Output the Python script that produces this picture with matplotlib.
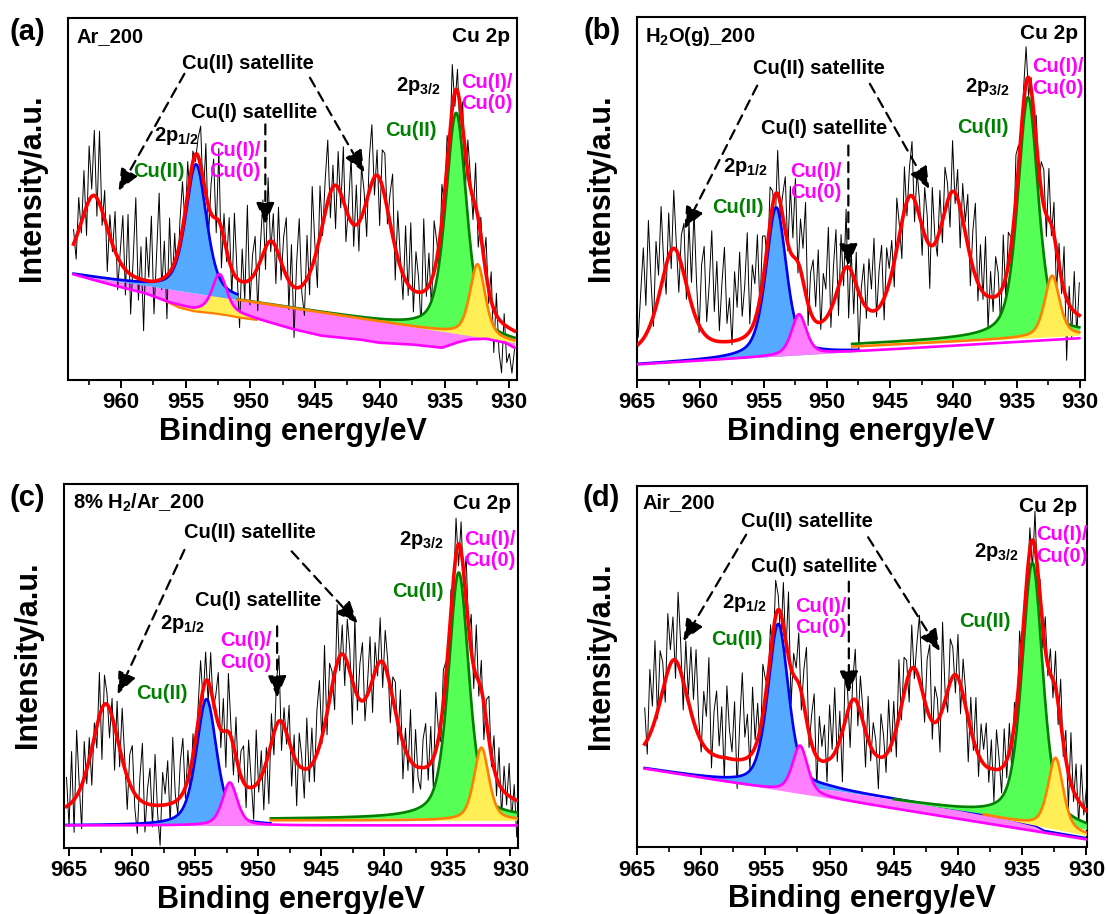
import numpy as np
import matplotlib
matplotlib.use('Agg')
import matplotlib.pyplot as plt

plt.rcParams['font.family'] = ['Liberation Sans', 'DejaVu Sans']
plt.rcParams['font.weight'] = 'bold'
plt.rcParams['mathtext.fontset'] = 'custom'
plt.rcParams['mathtext.rm'] = 'Liberation Sans:bold'
plt.rcParams['mathtext.it'] = 'Liberation Sans:bold'
plt.rcParams['mathtext.bf'] = 'Liberation Sans:bold'

# ---------------- data ----------------
panel_tags = ['(a)', '(b)', '(c)', '(d)']
sample_names = ['Ar_200', 'H$_2$O(g)_200', '8% H$_2$/Ar_200', 'Air_200']

# (a) Ar_200
a_span = (963.67, 929.59)
a_res = np.array("""4 -6 9 -3 12 -8 15 2 18 -5 20 -4 8 -12 6 -2 11 -9 3 14
-7 16 -11 5 22 -6 9 -14 12 1 18 -9 7 24 -3 10 -12 15 -5 8
-10 6 13 -4 9 -7 3 -2 5 11 -6 14 -9 8 16 -4 20 -11 7 -3
12 -8 17 2 -13 9 -5 21 -7 6 10 -12 4 15 -6 18 -3 8 -10 13
-5 9 16 -8 11 -14 7 19 -2 -9 12 -6 22 4 -11 14 -3 9 17 -7
6 -12 10 -4 15 -9 3 18 -6 11 -8 14 5 -10 9 16 -5 7 -13 10
12 -4 8 17 -9 13 2 -7 15 -3 18 -6 11 4 -10 20 -2 9 -8 14
5 -7 10 -3 8 -5 12 -4 6 -9 7 -11 9 3 -6 12 -8 5 -2 10
-4 8 -12 6 -9 -14 3 -10 -7 -12 -5""".split(), float)
a_env_E = [963.7, 962.1, 957.5, 954.2, 952.4, 950.6, 948.4, 946.5, 943.5, 940.2, 937.0, 934.1, 932.5, 929.6]
a_env_y = [28.5, 28.0, 24.5, 25.0, 24.0, 22.4, 20.0, 18.8, 18.0, 18.0, 17.5, 16.5, 13.6, 11.2]
a_fit_c = [954.2, 952.4, 934.1, 932.45]
a_fit_h = [35.6, 10.0, 60.9, 20.0]
a_fit_w = [1.9, 1.3, 1.9, 1.4]
a_sat_c = [962.1, 952.4, 948.4, 943.5, 940.2]
a_sat_h = [22.5, 3.0, 16.0, 32.3, 35.1]
a_sat_w = [2.6, 1.6, 2.0, 2.6, 2.6]
a_bg_E = [963.67, 929.59]
a_bg_y = [29.2, 10.4]
a_pinkbase_E = [963.7, 960.9, 958.3, 956.2, 954.4, 952.0, 950.3, 946.7, 944.5, 941.6,
                940.1, 937.5, 935.2, 934.1, 933.1, 931.8, 930.3, 929.6]
a_pinkbase_y = [29.2, 26.4, 24.1, 21.3, 19.5, 19.2, 17.6, 14.0, 12.2, 11.2,
                10.3, 9.8, 8.9, 10.3, 11.2, 11.4, 10.3, 8.9]
a_yellowlow_E = [957.0, 955.5, 954.4, 953.0, 952.0, 950.8, 949.5]
a_yellowlow_y = [22.5, 20.0, 19.0, 18.5, 18.0, 17.2, 16.6]

# (b) H2O(g)_200
b_span = (964.9, 930.05)
b_res = np.array("""2 14 25 8 30 12 -3 18 6 22 4 -8 12 -5 16 2 -10 8 14 -4
20 6 28 10 -2 18 24 4 15 30 8 22 3 16 26 5 12 -1 19 9
24 6 14 28 2 17 10 21 -3 13 8 -6 10 4 -9 12 -4 6 15 -2
18 5 22 -3 14 9 25 -6 11 16 4 20 -2 13 8 24 -5 10 18 -8
12 -4 16 -14 6 -10 9 -16 3 11 -3 14 6 20 -2 10 16 -6 12 4
9 -7 14 3 -10 12 -4 8 15 -6 10 4 -8 13 7 -12 16 2 -5 11
-6 12 5 -9 14 -3 8 -11 10 3 14 -8 10 20 -5 12 -2 16 -9 7
-4 11 6 -10 14 -6 9 3 -7 12 6 -8 4 10 -5 3 -9 7 -4 8
10 -6 14 -3 9 -12 6 -4 12 -17 5 -8 11 -6 9""".split(), float)
b_env_E = [964.9, 962.1, 958.1, 954.0, 952.2, 950.3, 948.4, 946.6, 943.4, 940.0, 937.1, 934.1, 932.4, 930.05]
b_env_y = [6.3, 6.7, 7.6, 7.9, 8.1, 10.2, 11.0, 12.0, 11.5, 11.8, 15.2, 15.2, 16.0, 14.7]
b_fit_c = [954.0, 952.2, 934.1, 932.2]
b_fit_h = [41.0, 11.2, 65.8, 16.8]
b_fit_w = [1.9, 1.4, 1.9, 1.4]
b_sat_c = [962.1, 952.4, 948.4, 943.4, 940.0]
b_sat_h = [29.0, 5.0, 17.5, 35.8, 36.5]
b_sat_w = [2.6, 1.6, 2.0, 2.6, 2.6]
b_bg_E = [964.9, 930.05]
b_bg_y = [4.3, 11.5]
b_green_E = [948.0, 930.05]
b_green_y = [9.8, 12.8]
b_orange_E = [948.0, 930.05]
b_orange_y = [9.2, 12.3]

# (c) 8% H2/Ar_200
c_span = (965.2, 929.5)
c_res = np.array("""8 -6 14 -9 18 2 -12 10 -4 6 -10 4 -6 12 -14 8 3 -8 5 -12
10 -5 14 3 -9 8 12 -4 -10 6 16 -8 4 10 -6 14 -2 -11 9 3
12 -6 18 2 -4 10 15 -3 8 -7 6 -9 4 12 -3 8 -6 10 -2 5
14 -5 9 -10 16 3 -8 11 -4 7 10 -6 13 2 -9 15 -3 7 -11 4
-14 8 -6 12 18 -8 5 -3 10 -10 6 -12 9 3 -8 14 -4 10 -6 12
18 -2 22 -6 10 4 -10 16 -4 8 -8 12 6 -12 20 -4 10 16 -6 3
14 -9 8 -3 12 -7 10 4 -10 6 8 -6 12 -10 6 -4 14 -8 10 -3
-6 8 12 -4 10 -8 16 3 -5 9 4 -8 6 -3 10 -6 8 -4 12 -2
10 -6 14 -4 8 -10 6 12 -3 9 -5 10 -8 7 -3 9 -6 4 -10""".split(), float)
c_env_E = [965.2, 962.1, 958.1, 954.1, 952.3, 950.6, 948.3, 946.5, 943.4, 940.2, 937.1, 934.1, 932.3, 929.5]
c_env_y = [8.5, 8.6, 8.8, 9.0, 9.2, 11.0, 12.0, 14.0, 13.0, 13.0, 15.0, 13.5, 12.5, 10.6]
c_fit_c = [954.1, 952.25, 934.1, 932.3]
c_fit_h = [34.7, 11.8, 67.4, 20.0]
c_fit_w = [1.9, 1.4, 1.9, 1.4]
c_sat_c = [962.1, 952.4, 948.3, 943.4, 940.2]
c_sat_h = [30.5, 4.0, 20.3, 36.5, 34.2]
c_sat_w = [2.6, 1.6, 2.0, 2.6, 2.6]
c_bg_E = [965.2, 929.5]
c_bg_y = [6.2, 6.2]
c_green_E = [949.0, 929.5]
c_green_y = [8.0, 8.4]
c_orange_E = [949.0, 929.5]
c_orange_y = [7.6, 7.6]

# (d) Air_200
d_span = (964.4, 930.0)
d_res = np.array("""10 -4 18 6 22 -2 14 8 -6 16 4 12 -5 20 8 -8 14 2 18 6
22 5 -3 15 9 26 -4 12 18 3 14 -6 20 8 2 16 -8 10 24 6
12 -4 18 2 10 -7 14 5 -3 8 -6 10 4 -8 12 -3 18 -10 6 3
14 -5 10 20 -4 8 16 -9 12 4 10 -6 15 2 18 -4 8 -14 12 6
-12 5 14 -6 10 3 -10 12 -4 8 4 -9 12 6 -5 14 -2 10 -8 16
-4 10 6 -8 12 -3 8 18 4 -6 14 20 -5 10 6 -10 24 2 -6 12
8 -5 12 -8 10 4 -12 9 -3 14 -6 10 4 12 -4 8 -9 11 3 -7
10 -5 8 -9 6 -4 12 -6 4 -3 6 -8 10 -4 5 -6 9 -3 7 -5
10 -6 12 -4 8 -10 14 -3 9 -7 11 -2 6""".split(), float)
d_env_E = [964.4, 962.1, 958.1, 954.0, 952.3, 950.2, 948.1, 946.2, 943.5, 940.2, 937.3, 934.2, 932.4, 930.0]
d_env_y = [23.0, 22.5, 21.7, 17.6, 17.5, 18.2, 16.5, 17.3, 14.0, 14.0, 15.1, 11.0, 13.0, 7.1]
d_fit_c = [954.0, 952.3, 934.2, 932.4]
d_fit_h = [45.4, 13.3, 71.6, 19.8]
d_fit_w = [1.9, 1.4, 1.9, 1.4]
d_sat_c = [962.1, 952.4, 948.1, 943.5, 940.2]
d_sat_h = [28.8, 4.3, 21.9, 32.6, 30.4]
d_sat_w = [2.6, 1.6, 2.0, 2.4, 2.4]
d_pinkbase_E = [964.4, 930.0]
d_pinkbase_y = [21.7, 2.1]
d_bluebase_E = [964.4, 956.0, 954.0, 952.0, 950.0, 945.0, 940.0, 936.0, 934.0, 933.3, 930.0]
d_bluebase_y = [21.7, 17.0, 16.4, 16.4, 15.9, 13.2, 10.2, 7.5, 5.7, 4.4, 2.4]
d_green_E = [945.0, 930.0]
d_green_y = [13.0, 4.9]
d_orange_E = [938.0, 930.0]
d_orange_y = [8.9, 3.2]

# ---------------- helpers ----------------
def pv(x, c, h, w, eta=0.5):
    r = (x - c) / w
    return h * (eta / (1 + 4 * r ** 2) + (1 - eta) * np.exp(-4 * np.log(2) * r ** 2))


def lin(Ep, yp, x):
    Ep = np.asarray(Ep, float)
    yp = np.asarray(yp, float)
    o = np.argsort(Ep)
    return np.interp(x, Ep[o], yp[o])


PINK_F, PINK_L = '#FF80FF', '#FF00FF'
BLUE_F, BLUE_L = '#55AAFF', '#0000EE'
GREEN_F, GREEN_L = '#55FF55', '#007F00'
YEL_F, ORG_L = '#FFEE55', '#FF8000'
TXT_G, TXT_M = '#008000', '#FF00FF'

panels = [
    dict(xlim=(964.1, 929.4), span=a_span, res=a_res, env=(a_env_E, a_env_y),
         fit=(a_fit_c, a_fit_h, a_fit_w), sats=(a_sat_c, a_sat_h, a_sat_w),
         base_b=(a_bg_E, a_bg_y), base_p=(a_pinkbase_E, a_pinkbase_y),
         base_g=(a_bg_E, a_bg_y), base_o=(a_bg_E, a_bg_y),
         rb=(963.67, 951.0), rg=(951.0, 929.59), ro=(951.0, 929.59),
         ylow=(a_yellowlow_E, a_yellowlow_y), pink_z=1.0,
         pos=(68, 18, 449, 362)),
    dict(xlim=(965.0, 929.6), span=b_span, res=b_res, env=(b_env_E, b_env_y),
         fit=(b_fit_c, b_fit_h, b_fit_w), sats=(b_sat_c, b_sat_h, b_sat_w),
         base_b=(b_bg_E, b_bg_y), base_p=(b_bg_E, b_bg_y),
         base_g=(b_green_E, b_green_y), base_o=(b_orange_E, b_orange_y),
         rb=(964.9, 947.5), rg=(948.0, 930.05), ro=(948.0, 930.05),
         ylow=None, pink_z=2.6, pos=(637, 17, 448, 363)),
    dict(xlim=(965.4, 929.4), span=c_span, res=c_res, env=(c_env_E, c_env_y),
         fit=(c_fit_c, c_fit_h, c_fit_w), sats=(c_sat_c, c_sat_h, c_sat_w),
         base_b=(c_bg_E, c_bg_y), base_p=(c_bg_E, c_bg_y),
         base_g=(c_green_E, c_green_y), base_o=(c_orange_E, c_orange_y),
         rb=(965.2, 949.0), rg=(949.0, 929.5), ro=(949.0, 929.5),
         ylow=None, pink_z=2.6, pos=(64, 484, 454, 364)),
    dict(xlim=(965.0, 929.95), span=d_span, res=d_res, env=(d_env_E, d_env_y),
         fit=(d_fit_c, d_fit_h, d_fit_w), sats=(d_sat_c, d_sat_h, d_sat_w),
         base_b=(d_bluebase_E, d_bluebase_y), base_p=(d_pinkbase_E, d_pinkbase_y),
         base_g=(d_green_E, d_green_y), base_o=(d_orange_E, d_orange_y),
         rb=(964.4, 930.0), rg=(945.0, 930.0), ro=(938.0, 930.0),
         ylow=None, pink_z=2.6, pos=(637, 486, 450, 361)),
]

# annotation layout (x in eV, y in axis units 0-100)
annots = [
    dict(sat2=(950.2, 87.3), la=((955.1, 84.6), (960.2, 52.2)), ra=((945.4, 83.5), (941.2, 57.3)),
         sat1=(949.7, 74.0), da=((948.85, 70.6), (948.85, 43.0)),
         p12=(955.7, 67.4), cu2l=(957.1, 57.7), cu1l=(953.2, 60.5),
         p32=(937.0, 81.3), cu2r=(937.6, 69.0), cu1r=(933.7, 79.3),
         name=(0.018, 0.950), cu2p=(0.984, 0.949), tag=(27, 32)),
    dict(sat2=(950.66, 85.7), la=((955.5, 81.1), (961.25, 41.6)), ra=((946.6, 81.6), (941.9, 52.6)),
         sat1=(950.2, 69.2), da=((948.3, 64.6), (948.3, 31.5)),
         p12=(956.4, 58.6), cu2l=(957.0, 47.6), cu1l=(952.9, 54.5),
         p32=(937.3, 80.7), cu2r=(937.7, 69.6), cu1r=(933.8, 83.3),
         name=(0.017, 0.945), cu2p=(0.985, 0.954), tag=(602, 31)),
    dict(sat2=(950.66, 86.7), la=((955.85, 81.9), (961.15, 42.2)), ra=((947.35, 81.5), (942.1, 61.7)),
         sat1=(950.0, 68.1), da=((948.5, 60.9), (948.5, 41.3)),
         p12=(956.0, 61.6), cu2l=(957.6, 42.4), cu1l=(953.0, 54.0),
         p32=(937.1, 84.7), cu2r=(937.3, 70.5), cu1r=(933.65, 81.9),
         name=(0.020, 0.947), cu2p=(0.984, 0.947), tag=(27, 498)),
    dict(sat2=(951.76, 90.3), la=((956.5, 86.5), (961.4, 57.0)), ra=((947.0, 85.8), (941.4, 54.2)),
         sat1=(951.2, 77.7), da=((948.5, 73.5), (948.5, 42.7)),
         p12=(956.65, 67.6), cu2l=(957.2, 57.4), cu1l=(952.7, 63.7),
         p32=(937.0, 81.8), cu2r=(937.9, 62.5), cu1r=(933.95, 83.5),
         name=(0.013, 0.954), cu2p=(0.979, 0.943), tag=(601, 498)),
]

W, H = 1107, 914
fig = plt.figure(figsize=(W / 100, H / 100), dpi=100)

FS = 14.5


def arrow(ax, p0, p1):
    ax.annotate('', xy=p1, xytext=p0,
                arrowprops=dict(arrowstyle='-|>,head_length=0.95,head_width=0.4',
                                color='k', lw=1.6, linestyle=(0, (4.5, 3)),
                                shrinkA=0, shrinkB=0, mutation_scale=14),
                zorder=12)


for P, A, tag, name in zip(panels, annots, panel_tags, sample_names):
    l, t, w, h = P['pos']
    ax = fig.add_axes([l / W, 1 - (t + h) / H, w / W, h / H])
    hi, lo = P['span']
    x = np.linspace(hi, lo, 900)

    def envelope(xx):
        y = lin(*P['env'], xx)
        for c, hh, ww in zip(*P['fit']):
            y = y + pv(xx, c, hh, ww)
        for c, hh, ww in zip(*P['sats']):
            y = y + pv(xx, c, hh, ww)
        return y

    env = envelope(x)
    xr = np.linspace(hi, lo, len(P['res']))
    raw = envelope(xr) + P['res']
    ax.plot(xr, raw, color='k', lw=0.7, zorder=1.5)

    fc, fh, fw = P['fit']
    bb = lin(*P['base_b'], x)
    bp = lin(*P['base_p'], x)
    bgr = lin(*P['base_g'], x)
    bo = lin(*P['base_o'], x)

    # blue (Cu II 2p1/2)
    m = (x <= P['rb'][0]) & (x >= P['rb'][1])
    B = bb + pv(x, fc[0], fh[0], fw[0])
    ax.fill_between(x[m], bb[m], B[m], color=BLUE_F, lw=0, zorder=2)
    ax.plot(x[m], B[m], color=BLUE_L, lw=1.9, zorder=2.2)

    # green (Cu II 2p3/2)
    m = (x <= P['rg'][0]) & (x >= P['rg'][1])
    G = bgr + pv(x, fc[2], fh[2], fw[2])
    ax.fill_between(x[m], bgr[m], G[m], color=GREEN_F, lw=0, zorder=3)
    ax.plot(x[m], G[m], color=GREEN_L, lw=1.9, zorder=3.2)

    # yellow (Cu I / Cu0 2p3/2)
    m = (x <= P['ro'][0]) & (x >= P['ro'][1])
    Y = bo + pv(x, fc[3], fh[3], fw[3])
    ax.fill_between(x[m], bo[m], Y[m], color=YEL_F, lw=0, zorder=4)
    ax.plot(x[m], Y[m], color=ORG_L, lw=1.9, zorder=4.2)

    # pink (Cu I / Cu0 2p1/2)
    Pk = bp + pv(x, fc[1], fh[1], fw[1])
    ax.fill_between(x, bp, np.maximum(Pk, bb), color=PINK_F, lw=0, zorder=P['pink_z'])
    if P['ylow'] is not None:
        yl = P['ylow']
        m = (x <= max(yl[0])) & (x >= min(yl[0]))
        ylo = lin(*yl, x[m])
        ax.fill_between(x[m], ylo, np.minimum(Pk[m], bb[m]), where=ylo < np.minimum(Pk[m], bb[m]),
                        color=YEL_F, lw=0, zorder=1.8)
        ax.plot(x[m], ylo, color=ORG_L, lw=1.6, zorder=1.9)
    ax.plot(x, Pk, color=PINK_L, lw=1.9, zorder=5)

    # envelope
    ax.plot(x, env, color='#FF0000', lw=2.6, zorder=10)

    ax.set_xticks(np.arange(930, 966, 5))
    ax.set_xticks(np.arange(932.5, 966, 5), minor=True)
    ax.set_yticks([])
    ax.set_xlim(*P['xlim'])
    ax.set_ylim(0, 100)
    ax.tick_params(axis='x', which='major', direction='out', length=6, width=1.4,
                   labelsize=16, pad=3)
    ax.tick_params(axis='x', which='minor', direction='out', length=3.5, width=1.2)
    for lab in ax.get_xticklabels():
        lab.set_fontweight('bold')
    for s in ax.spines.values():
        s.set_linewidth(1.5)
    ax.set_xlabel('Binding energy/eV', fontsize=22, fontweight='bold', labelpad=2.5)
    ax.set_ylabel('Intensity/a.u.', fontsize=22, fontweight='bold')
    ax.yaxis.set_label_coords(-0.047, 0.53)

    # texts
    ax.text(*A['name'], name, transform=ax.transAxes, ha='left', va='center', fontsize=FS)
    ax.text(*A['cu2p'], 'Cu 2p', transform=ax.transAxes, ha='right', va='center', fontsize=15)
    fig.text(A['tag'][0] / W, 1 - A['tag'][1] / H, tag, ha='center', va='center',
             fontsize=21, fontweight='bold')
    ax.text(*A['sat2'], 'Cu(II) satellite', ha='center', va='center', fontsize=FS, zorder=13)
    ax.text(*A['sat1'], 'Cu(I) satellite', ha='center', va='center', fontsize=FS, zorder=13)
    arrow(ax, *A['la'])
    arrow(ax, *A['ra'])
    arrow(ax, *A['da'])
    ax.text(*A['p12'], '2p$_{1/2}$', ha='center', va='center', fontsize=FS, zorder=13)
    ax.text(*A['p32'], '2p$_{3/2}$', ha='center', va='center', fontsize=FS, zorder=13)
    ax.text(*A['cu2l'], 'Cu(II)', ha='center', va='center', fontsize=FS, color=TXT_G, zorder=13)
    ax.text(*A['cu2r'], 'Cu(II)', ha='center', va='center', fontsize=FS, color=TXT_G, zorder=13)
    ax.text(*A['cu1l'], 'Cu(I)/\nCu(0)', ha='left', va='center', fontsize=FS, color=TXT_M,
            linespacing=1.15, zorder=13)
    ax.text(*A['cu1r'], 'Cu(I)/\nCu(0)', ha='left', va='center', fontsize=FS, color=TXT_M,
            linespacing=1.15, zorder=13)

fig.savefig('out.png', dpi=100)
